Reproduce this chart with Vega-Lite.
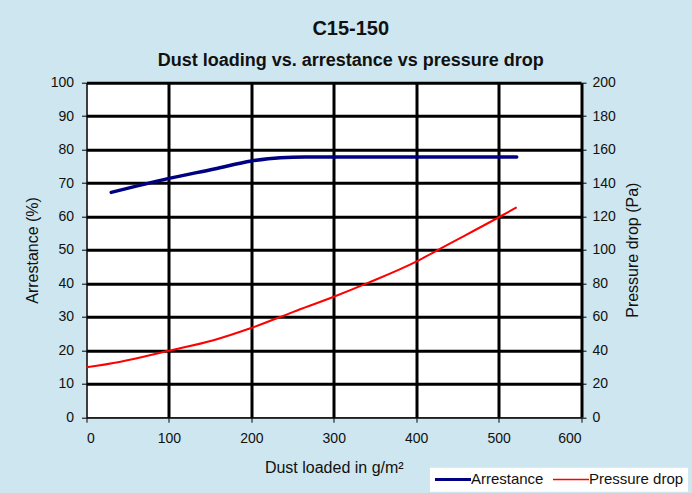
{
  "$schema": "https://vega.github.io/schema/vega-lite/v6.json",
  "width": 494.5,
  "height": 334.5,
  "autosize": "none",
  "padding": {"left": 86.5, "top": 82.7, "right": 111, "bottom": 75.8},
  "background": "#CDE6EF",
  "config": {
    "view": {"fill": "white", "stroke": null},
    "font": "Liberation Sans"
  },
  "title": {
    "text": "C15-150",
    "subtitle": "Dust loading vs. arrestance vs pressure drop",
    "font": "Liberation Sans",
    "subtitleFont": "Liberation Sans",
    "fontSize": 20,
    "fontWeight": "bold",
    "subtitleFontSize": 18,
    "subtitleFontWeight": "bold",
    "color": "#111111",
    "subtitleColor": "#111111",
    "anchor": "middle",
    "dx": 17,
    "offset": 6,
    "subtitlePadding": 13
  },
  "datasets": {
    "arrestance": [
      {"dust": 30, "arrestance": 67.2},
      {"dust": 100, "arrestance": 71.4},
      {"dust": 155, "arrestance": 74.2},
      {"dust": 200, "arrestance": 76.6},
      {"dust": 235, "arrestance": 77.6},
      {"dust": 265, "arrestance": 77.8},
      {"dust": 400, "arrestance": 77.8},
      {"dust": 522, "arrestance": 77.8}
    ],
    "pressure": [
      {"dust": 0, "pressure": 29.8},
      {"dust": 40, "pressure": 33},
      {"dust": 100, "pressure": 39.7},
      {"dust": 154, "pressure": 46},
      {"dust": 198, "pressure": 53},
      {"dust": 251, "pressure": 63},
      {"dust": 300, "pressure": 72},
      {"dust": 340, "pressure": 80},
      {"dust": 400, "pressure": 93},
      {"dust": 430, "pressure": 101},
      {"dust": 502, "pressure": 120},
      {"dust": 522, "pressure": 125.5}
    ]
  },
  "layer": [
    {
      "data": {"name": "arrestance"},
      "mark": {"type": "line", "interpolate": "monotone", "strokeWidth": 3.5, "strokeCap": "round"},
      "encoding": {
        "x": {
          "field": "dust",
          "type": "quantitative",
          "scale": {"domain": [0, 600], "nice": false},
          "axis": {
            "values": [0, 100, 200, 300, 400, 500, 600],
            "grid": true,
            "gridColor": "#000000",
            "gridOpacity": 1,
            "gridWidth": {"condition": {"test": "datum.value === 0", "value": 1}, "value": 3},
            "domainColor": "#000000",
            "domainWidth": 1,
            "tickColor": "#000000",
            "tickSize": 5,
            "tickWidth": 1,
            "labelFontSize": 14,
            "labelColor": "#111111",
            "labelPadding": 9,
            "title": "Dust loaded in g/m²",
            "titleFontSize": 16,
            "titleFontWeight": "normal",
            "titleColor": "#111111",
            "titlePadding": 14
          }
        },
        "y": {
          "field": "arrestance",
          "type": "quantitative",
          "scale": {"domain": [0, 100], "nice": false},
          "axis": {
            "orient": "left",
            "values": [0, 10, 20, 30, 40, 50, 60, 70, 80, 90, 100],
            "grid": true,
            "gridColor": "#000000",
            "gridOpacity": 1,
            "gridWidth": {"condition": {"test": "datum.value === 0", "value": 1}, "value": 3},
            "domainColor": "#000000",
            "domainWidth": 1,
            "tickColor": "#000000",
            "tickSize": 5,
            "tickWidth": 1,
            "labelFontSize": 14,
            "labelColor": "#111111",
            "labelPadding": 8,
            "title": "Arrestance (%)",
            "titleFontSize": 16,
            "titleFontWeight": "normal",
            "titleColor": "#111111",
            "titlePadding": 10
          }
        },
        "color": {
          "datum": "Arrestance",
          "scale": {"domain": ["Arrestance", "Pressure drop"], "range": ["#000080", "#FF0000"]},
          "legend": {
            "orient": "none",
            "legendX": 343.5,
            "legendY": 385,
            "direction": "horizontal",
            "title": null,
            "fillColor": "#FFFFFF",
            "padding": 4,
            "symbolType": "stroke",
            "symbolSize": 1296,
            "symbolStrokeWidth": 2.5,
            "symbolOffset": 11.5,
            "labelFontSize": 15,
            "labelColor": "#111111",
            "labelOffset": 10.4,
            "columnPadding": 6,
            "encode": {
              "legend": {"update": {"fill": {"value": "#FFFFFF"}}},
              "symbols": {"update": {"strokeWidth": {"signal": "datum.value === 'Arrestance' ? 3 : 1.5"}}}
            }
          }
        }
      }
    },
    {
      "data": {"name": "pressure"},
      "mark": {"type": "line", "interpolate": "monotone", "strokeWidth": 2},
      "encoding": {
        "x": {"field": "dust", "type": "quantitative"},
        "y": {
          "field": "pressure",
          "type": "quantitative",
          "scale": {"domain": [0, 200], "nice": false},
          "axis": {
            "orient": "right",
            "values": [0, 20, 40, 60, 80, 100, 120, 140, 160, 180, 200],
            "grid": false,
            "domain": false,
            "tickColor": "#000000",
            "tickSize": 5,
            "tickWidth": 1,
            "labelFontSize": 14,
            "labelColor": "#111111",
            "labelPadding": 6,
            "title": "Pressure drop (Pa)",
            "titleAngle": 270,
            "titleX": 51,
            "titleY": 167,
            "titleAlign": "center",
            "titleBaseline": "middle",
            "titleFontSize": 16,
            "titleFontWeight": "normal",
            "titleColor": "#111111"
          }
        },
        "color": {"datum": "Pressure drop"}
      }
    }
  ],
  "resolve": {"scale": {"y": "independent"}}
}
